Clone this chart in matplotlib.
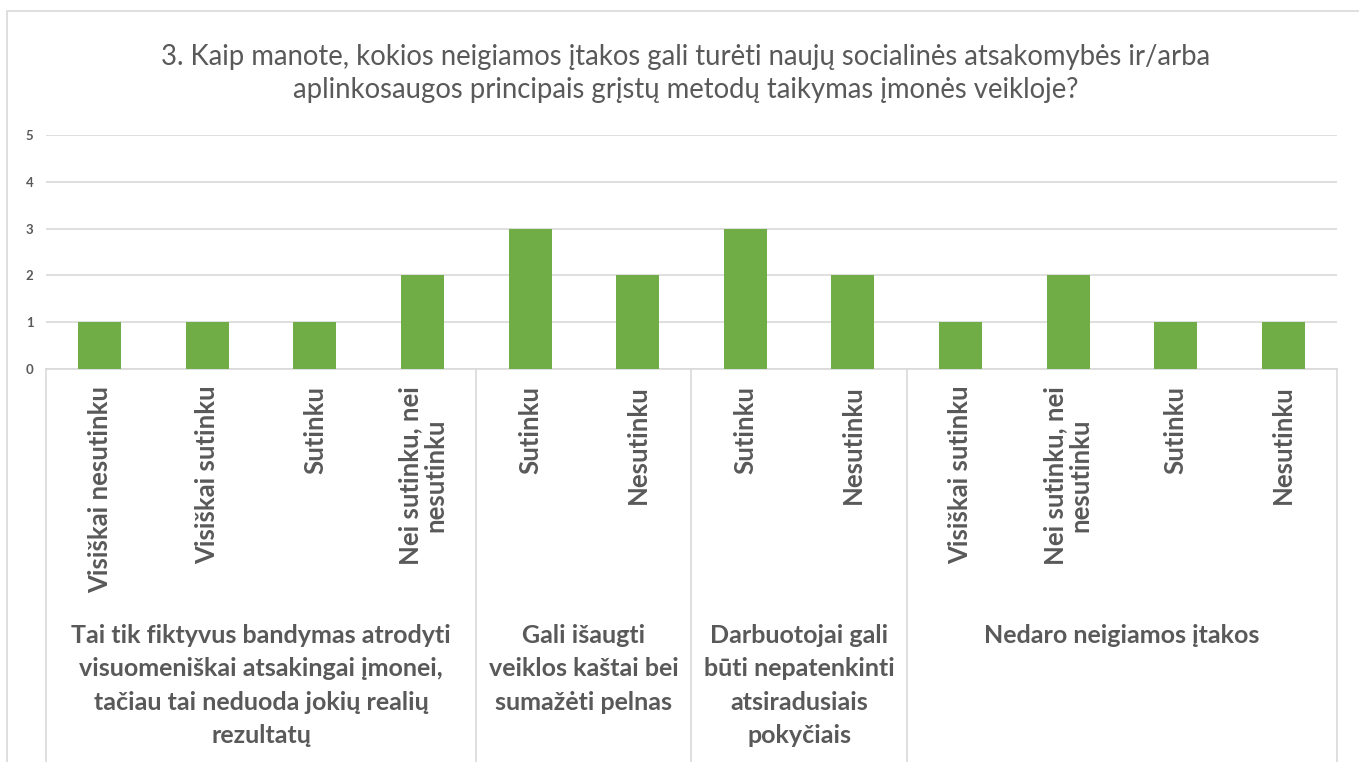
import matplotlib
matplotlib.use("Agg")
import matplotlib.pyplot as plt
import matplotlib.transforms as mtransforms
from matplotlib.patches import Rectangle

title = ("3. Kaip manote, kokios neigiamos įtakos gali turėti naujų socialinės atsakomybės ir/arba\n"
         "aplinkosaugos principais grįstų metodų taikymas įmonės veikloje?")

categories = ["Visiškai nesutinku", "Visiškai sutinku", "Sutinku", "Nei sutinku, nei\nnesutinku",
              "Sutinku", "Nesutinku",
              "Sutinku", "Nesutinku",
              "Visiškai sutinku", "Nei sutinku, nei\nnesutinku", "Sutinku", "Nesutinku"]
values = [1, 1, 1, 2, 3, 2, 3, 2, 1, 2, 1, 1]
groups = ["Tai tik fiktyvus bandymas atrodyti\nvisuomeniškai atsakingai įmonei,\ntačiau tai neduoda jokių realių\nrezultatų",
          "Gali išaugti\nveiklos kaštai bei\nsumažėti pelnas",
          "Darbuotojai gali\nbūti nepatenkinti\natsiradusiais\npokyčiais",
          "Nedaro neigiamos įtakos"]
group_sizes = [4, 2, 2, 4]
yticks = [0, 1, 2, 3, 4, 5]

TXT = "#595959"
GRID = "#d9d9d9"
FONT = "Lato"

fig = plt.figure(figsize=(13.59, 7.62), dpi=100)
fig.patches.append(Rectangle((7/1359, -0.1), 2.0, (762-11)/762 + 0.1, transform=fig.transFigure,
                             fill=False, edgecolor=GRID, linewidth=1.2))
ax = fig.add_axes([46/1359, (762-369)/762, 1291/1359, 234/762])

x = list(range(len(values)))
ax.bar(x, values, width=0.4, color="#70AD47", zorder=3)
ax.set_xlim(-0.5, len(values) - 0.5)
ax.set_ylim(0, 5)
ax.set_yticks(yticks)
ax.set_yticklabels([str(t) for t in yticks], fontsize=9.5, fontweight="bold", color=TXT, family=FONT)
ax.tick_params(axis="y", length=0, pad=9)
ax.yaxis.grid(True, color=GRID, linewidth=1.2, zorder=0)
for s in ["left", "right", "top"]:
    ax.spines[s].set_visible(False)
ax.spines["bottom"].set_color(GRID)
ax.spines["bottom"].set_linewidth(1.2)

ax.set_xticks(x)
ax.set_xticklabels(categories, rotation=90, fontsize=18.5, fontweight="bold", color=TXT,
                   family=FONT, va="top", ha="center", multialignment="center", linespacing=1.05)
ax.tick_params(axis="x", length=0, pad=12)

trans = mtransforms.blended_transform_factory(ax.transData, ax.transAxes)
bottom_y = -(762 - 369) / 234
start = -0.5
bounds = [start]
for g in group_sizes:
    start += g
    bounds.append(start)
for b in bounds:
    ax.plot([b, b], [0, bottom_y], transform=trans, color=GRID, linewidth=1.2, clip_on=False)

label_y = -(624 - 369) / 234
for i, g in enumerate(groups):
    cx = (bounds[i] + bounds[i + 1]) / 2
    ax.text(cx, label_y, g, transform=trans, ha="center", va="top", fontsize=18, fontweight="bold",
            color=TXT, family=FONT, linespacing=1.55, multialignment="center")

fig.text(686/1359, 1 - 73.5/762, title, ha="center", va="center", fontsize=19.8, color=TXT,
         family=FONT, fontweight="normal", linespacing=1.35)

fig.savefig("out.png", dpi=100)
